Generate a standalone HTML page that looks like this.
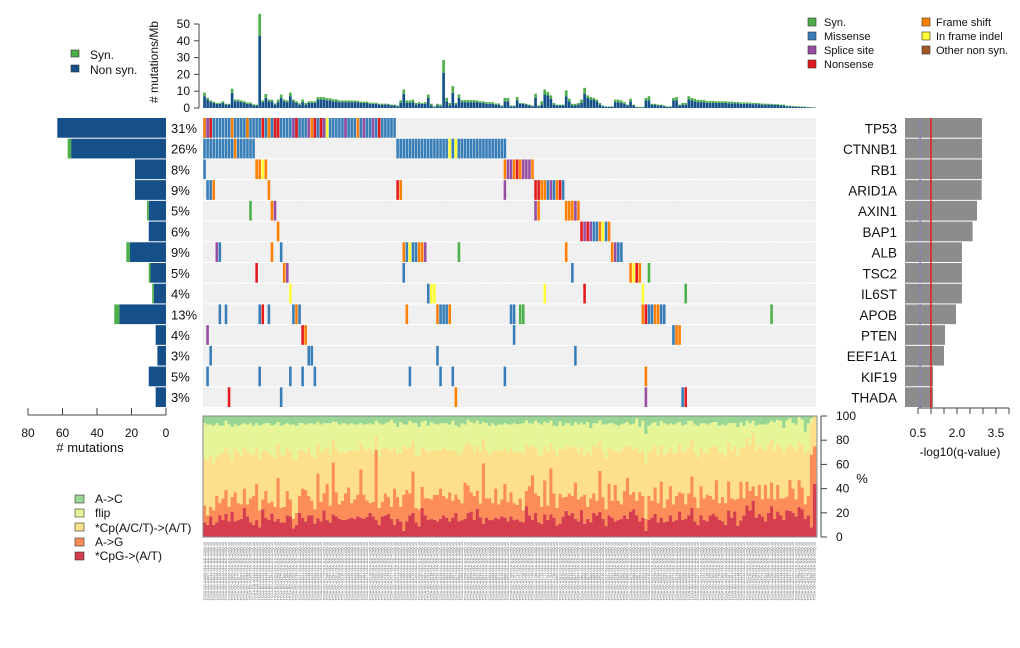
<!DOCTYPE html>
<html><head><meta charset="utf-8"><style>
html,body{margin:0;padding:0;background:#fff;}
svg{display:block;font-family:"Liberation Sans",sans-serif;}
</style></head><body>
<svg id="chart" width="1020" height="648" viewBox="0 0 1020 648" xmlns="http://www.w3.org/2000/svg">
<g id="legends">
  <rect x="71" y="50" width="8" height="7" fill="#4daf4a" stroke="#333" stroke-width="0.6"/>
  <text x="90" y="59" font-size="12" fill="#111">Syn.</text>
  <rect x="71" y="65" width="8" height="7" fill="#15508b" stroke="#333" stroke-width="0.6"/>
  <text x="90" y="74" font-size="12" fill="#111">Non syn.</text>
  <g font-size="11" fill="#111">
    <rect x="808" y="18" width="8" height="8" fill="#4daf4a" stroke="#333" stroke-width="0.6"/><text x="824" y="26">Syn.</text>
    <rect x="808" y="32" width="8" height="8" fill="#377eb8" stroke="#333" stroke-width="0.6"/><text x="824" y="40">Missense</text>
    <rect x="808" y="46" width="8" height="8" fill="#984ea3" stroke="#333" stroke-width="0.6"/><text x="824" y="54">Splice site</text>
    <rect x="808" y="60" width="8" height="8" fill="#e41a1c" stroke="#333" stroke-width="0.6"/><text x="824" y="68">Nonsense</text>
    <rect x="922" y="18" width="8" height="8" fill="#ff7f00" stroke="#333" stroke-width="0.6"/><text x="936" y="26">Frame shift</text>
    <rect x="922" y="32" width="8" height="8" fill="#ffff33" stroke="#333" stroke-width="0.6"/><text x="936" y="40">In frame indel</text>
    <rect x="922" y="46" width="8" height="8" fill="#a65628" stroke="#333" stroke-width="0.6"/><text x="936" y="54">Other non syn.</text>
  </g>
  <g font-size="12" fill="#111">
    <rect x="75" y="495" width="9" height="8" fill="#99d594" stroke="#333" stroke-width="0.6"/><text x="95" y="503">A-&gt;C</text>
    <rect x="75" y="509" width="9" height="8" fill="#e6f598" stroke="#333" stroke-width="0.6"/><text x="95" y="517">flip</text>
    <rect x="75" y="523" width="9" height="8" fill="#fee08b" stroke="#333" stroke-width="0.6"/><text x="95" y="532">*Cp(A/C/T)-&gt;(A/T)</text>
    <rect x="75" y="538" width="9" height="8" fill="#fc8d59" stroke="#333" stroke-width="0.6"/><text x="95" y="546">A-&gt;G</text>
    <rect x="75" y="552" width="9" height="8" fill="#d53e4f" stroke="#333" stroke-width="0.6"/><text x="95" y="560">*CpG-&gt;(A/T)</text>
  </g>
</g>
<g id="topG"></g><g id="matrixG"></g><g id="leftG"></g><g id="rightG"></g><g id="bottomG"></g><g id="labelsG"></g>
</svg>
<script>
const N = 200;
const genes = ["TP53","CTNNB1","RB1","ARID1A","AXIN1","BAP1","ALB","TSC2","IL6ST","APOB","PTEN","EEF1A1","KIF19","THADA"];
const pctLabels = ["31%","26%","8%","9%","5%","6%","9%","5%","4%","13%","4%","3%","5%","3%"];
const leftNonSyn = [63,55,18,18,10,10,21,9,7,27,6,5,10,6];
const leftSyn = [0,2,0,0,1,0,2,1,1,3,0,0,0,0];
const qvals = [2.96,2.96,2.96,2.95,2.77,2.6,2.19,2.19,2.19,1.96,1.54,1.5,1.08,1.08];
const qThreshold = 1.0;
const qThreshold2 = 0.58;
const topNonSyn = [7,5,3.5,3,2.5,2.5,3,2,2,9, 4,4,3.5,3,2.5,2.5,1.5,1.5,43,3.5,
6,4,4,2,3.5,6,4,3.5,7,4, 3,2,3.5,2,3,3,3,5,5,5,
4.5,4.5,4,4,3.5,3.5,3.5,3.5,3.5,3.5, 3.5,3,3,3,2.5,2.5,2.5,2,2,2,
2,1.5,1.5,1,3,8.5,3,3,3.5,2, 2.5,2.5,2.5,6,1.5,0.5,1.5,1,21,4,
1.5,9,2,6,3.5,3.5,3.5,3.5,3.5,3.5, 3,3,2.5,2.5,2.5,2,2,1,4,4,
1,1,4.5,2.5,2.5,2,1.5,1,6,1, 2,8,7.5,5.5,2,1.5,1.5,1.5,7,4,
1.5,1.5,2,3,8.5,6,5,5,4,2, 1,0.7,0.7,0.7,3.5,3.5,3,2.5,1.5,4,
1.5,0.5,0.4,0.4,4.5,4.5,2,2,1.5,1.5, 1,0.7,0.7,4.5,4.5,1.5,2,2,5,4.5,
4,3.5,3.5,3.5,3,3,3,3,3,3, 3,2.8,2.8,2.8,2.8,2.5,2.5,2.5,2.5,2.3,
2.3,2.3,2,2,2,2,1.8,1.8,1.5,1.5, 1,1,0.8,0.8,0.7,0.6,0.5,0.4,0.3,0.2];
const topSyn = [2.2,1,1,0.8,0.6,0.6,1,0.5,0.5,2.5, 1,1,1,1,0.8,0.8,0.7,0.5,13,1,
2.3,1,1,0.7,1.5,2,1,1,2.2,1, 1,0.8,1.5,1,1,1,1,1.5,1.5,1.5,
1.3,1.3,1.2,1.2,1,1,1,1,1,1, 0.8,0.8,0.8,0.8,0.7,0.7,0.7,0.6,0.6,0.6,
0.5,0.5,0.5,0.5,1.5,2.5,1.5,1.5,1.5,1, 1,0.5,1,2,1,0.5,1,1,7.5,2,
1.5,4,1,2,1.2,1.2,1.2,1.2,1.2,1, 1,1,1,1,1,0.7,0.7,0.5,2,2,
0.5,0.5,2,0.5,0.5,0.5,0.5,0.5,2.5,0.5, 2,3,2,2,1,0.5,0.5,0.5,3.5,1.5,
1,1,1,2,3.5,1.5,1.5,1,1,1, 0.5,0.3,0.3,0.3,1.5,1.5,1.5,1,0.5,1.5,
0.5,0.3,0.3,0.3,1.5,2.5,0.5,0.5,0.5,0.5, 0.5,0.3,0.3,1.5,2,0.5,1,1,2,1.5,
1.5,1.3,1.3,1.2,1.2,1.2,1.2,1,1,1, 1,1,1,0.8,0.8,0.8,0.8,0.8,0.7,0.7,
0.7,0.6,0.6,0.6,0.5,0.5,0.5,0.5,0.5,0.5, 0.4,0.4,0.4,0.3,0.3,0.3,0.3,0.2,0.2,0.2];
// [geneIndex, startSample, endSample, type]
const mutations = [
[0,0,62,"M"],[0,0,0,"F"],[0,1,1,"S"],[0,2,2,"N"],[0,9,9,"F"],[0,14,14,"F"],[0,19,19,"N"],[0,21,21,"F"],[0,23,24,"N"],[0,29,29,"S"],[0,30,30,"N"],[0,34,34,"S"],[0,35,35,"F"],[0,36,36,"N"],[0,38,38,"N"],[0,39,39,"S"],[0,40,40,"I"],[0,46,46,"S"],[0,50,50,"F"],[0,52,52,"S"],[0,55,55,"S"],[0,57,57,"N"],
[1,0,16,"M"],[1,10,10,"F"],[1,63,98,"M"],[1,80,80,"I"],[1,82,82,"I"],
[2,0,0,"M"],[2,17,18,"F"],[2,19,19,"I"],[2,20,20,"F"],[2,98,98,"F"],[2,99,100,"S"],[2,101,101,"F"],[2,102,102,"N"],[2,103,103,"F"],[2,104,106,"S"],[2,107,107,"F"],
[3,1,2,"M"],[3,3,3,"F"],[3,21,21,"F"],[3,63,63,"N"],[3,64,64,"F"],[3,98,98,"S"],[3,108,109,"N"],[3,110,111,"F"],[3,112,112,"M"],[3,113,113,"S"],[3,114,114,"M"],[3,115,115,"F"],[3,116,116,"N"],[3,117,117,"M"],
[4,15,15,"Y"],[4,22,22,"F"],[4,23,23,"S"],[4,108,108,"S"],[4,109,109,"F"],[4,118,120,"F"],[4,121,121,"S"],[4,122,122,"F"],
[5,24,24,"F"],[5,123,123,"N"],[5,124,124,"S"],[5,125,125,"N"],[5,126,126,"S"],[5,127,128,"M"],[5,129,129,"F"],[5,130,130,"I"],[5,131,131,"M"],[5,132,132,"F"],
[6,4,4,"S"],[6,5,5,"M"],[6,22,22,"F"],[6,25,25,"M"],[6,65,65,"F"],[6,66,66,"M"],[6,67,67,"I"],[6,68,69,"M"],[6,70,71,"F"],[6,72,72,"S"],[6,83,83,"Y"],[6,118,118,"F"],[6,133,133,"F"],[6,134,134,"S"],[6,135,136,"M"],
[7,17,17,"N"],[7,26,26,"F"],[7,27,27,"S"],[7,65,65,"M"],[7,120,120,"M"],[7,139,139,"F"],[7,140,140,"I"],[7,141,141,"N"],[7,142,142,"F"],[7,145,145,"Y"],
[8,28,28,"I"],[8,73,73,"M"],[8,74,75,"I"],[8,111,111,"I"],[8,124,124,"N"],[8,143,143,"I"],[8,157,157,"Y"],
[9,5,5,"M"],[9,7,7,"M"],[9,18,18,"M"],[9,19,19,"N"],[9,21,21,"M"],[9,29,29,"M"],[9,30,30,"F"],[9,31,31,"M"],[9,66,66,"F"],[9,76,76,"F"],[9,77,79,"M"],[9,80,80,"F"],[9,100,101,"M"],[9,103,104,"Y"],[9,143,143,"F"],[9,144,144,"N"],[9,145,146,"M"],[9,147,148,"F"],[9,149,150,"M"],[9,185,185,"Y"],
[10,1,1,"S"],[10,32,32,"N"],[10,33,33,"F"],[10,101,101,"M"],[10,153,153,"M"],[10,154,155,"F"],
[11,2,2,"M"],[11,34,35,"M"],[11,76,76,"M"],[11,121,121,"M"],
[12,1,1,"M"],[12,18,18,"M"],[12,28,28,"M"],[12,32,32,"M"],[12,36,36,"M"],[12,67,67,"M"],[12,77,77,"M"],[12,81,81,"M"],[12,98,98,"M"],[12,144,144,"F"],
[13,8,8,"N"],[13,25,25,"M"],[13,82,82,"F"],[13,144,144,"S"],[13,156,156,"M"],[13,157,157,"N"]
];
const specCpG = [12,10,17,10,12,18,14,19,13,21,13,14,15,24,17,12,10,14,8,23,
16,14,20,13,15,12,12,18,17,7,10,20,16,13,18,18,11,16,13,22,
14,12,20,17,15,14,14,15,16,15,17,16,15,17,20,17,14,10,17,18,
19,15,10,15,13,5,13,18,21,12,9,25,18,14,15,14,13,15,18,16,
13,16,21,13,14,15,19,21,14,25,17,11,16,14,14,16,15,17,16,13,
17,14,15,12,12,28,18,14,20,12,11,20,14,20,16,9,10,17,22,18,
20,15,13,24,11,15,12,20,18,22,15,9,18,16,13,14,15,18,15,21,
25,18,13,16,5,14,16,19,12,16,12,13,18,13,14,21,14,15,18,24,
13,10,18,14,13,18,19,17,14,13,10,22,16,22,9,13,18,26,22,30,
16,19,17,13,20,26,15,21,18,14,24,22,20,17,25,23,15,18,8,44];
const specAG = [14,8,8,12,22,10,18,20,12,12,24,14,12,16,10,20,24,30,14,8,
22,14,10,12,34,12,13,20,14,8,10,14,24,26,16,12,12,38,16,14,
30,14,46,20,12,16,22,26,12,16,18,40,20,14,8,12,58,14,12,18,
14,10,30,18,12,30,26,18,36,12,14,18,14,18,16,20,22,25,16,16,
24,14,16,18,14,30,22,16,20,16,12,50,16,18,14,24,12,14,28,16,
20,14,12,18,10,14,24,36,16,22,14,30,12,40,20,14,22,16,12,18,
14,30,18,12,24,10,20,16,12,36,18,14,26,14,30,16,12,20,34,14,
16,12,24,18,10,20,14,22,16,30,12,18,24,14,20,16,22,12,18,26,
20,14,24,18,22,16,12,30,14,20,18,24,16,10,22,30,14,20,16,12,
18,24,14,30,12,20,16,22,14,18,12,26,20,14,22,18,12,16,60,31];
const specCpA = [40,45,42,38,32,40,38,35,44,30,36,42,40,34,44,36,34,30,42,40,
34,42,38,40,28,44,42,36,40,48,44,38,32,30,40,38,42,26,40,36,
30,42,20,36,42,40,34,30,44,40,36,22,38,42,46,40,12,42,44,38,
40,46,34,36,44,40,34,38,26,42,44,34,40,38,40,36,36,32,40,40,
34,42,38,36,42,30,34,38,36,40,44,20,40,36,42,32,44,40,30,40,
36,42,44,36,46,42,32,24,38,34,42,30,44,22,36,40,34,40,42,38,
40,30,38,44,32,46,36,40,44,26,38,42,30,42,28,40,44,36,26,40,
38,44,32,38,46,36,42,34,40,30,44,38,32,42,36,40,34,44,38,30,
36,42,32,38,34,40,44,28,42,36,38,32,40,46,34,26,42,36,38,44,
38,32,42,28,44,36,40,34,42,38,44,30,34,40,32,36,42,38,26,25];
const specFlip = [28,30,26,32,28,24,22,22,24,28,20,22,26,20,22,26,24,20,28,22,
22,24,26,28,18,24,26,20,22,30,28,22,22,24,20,26,28,18,24,22,
20,26,16,22,24,24,24,22,22,22,22,16,20,22,20,24,12,28,20,20,
22,26,20,22,26,18,20,22,16,28,24,22,24,22,24,22,22,22,20,22,
22,24,22,24,24,18,18,20,24,22,24,14,22,24,24,20,22,22,20,24,
20,24,24,22,26,22,20,18,22,26,26,22,24,20,20,24,20,20,20,20,
18,20,24,22,26,24,22,18,20,18,22,28,20,22,22,22,22,20,20,18,
24,24,22,24,24,22,22,20,24,20,26,24,20,24,24,18,22,22,22,16,
24,26,20,24,24,20,20,20,22,24,26,16,22,20,24,20,18,14,18,10,
20,18,20,22,18,16,24,20,22,20,24,22,20,22,20,20,18,22,4,0];
const specAC = [6,7,7,8,6,8,8,4,7,9,7,8,7,6,7,6,8,6,8,7,
6,6,8,7,5,8,7,6,7,7,8,6,6,7,6,6,7,5,7,6,
6,6,5,5,7,6,6,7,6,7,7,6,7,7,6,7,4,6,7,6,
5,3,6,9,5,7,7,4,6,6,9,5,4,8,5,6,7,6,6,6,
7,4,8,9,6,7,3,5,6,4,7,5,6,8,6,8,7,7,6,7,
7,6,7,6,6,4,6,6,4,6,7,5,6,4,8,8,4,8,6,6,
8,5,7,6,7,5,10,6,6,4,7,7,6,6,7,8,7,6,5,7,
7,2,9,4,15,8,6,5,8,4,6,7,6,7,6,5,8,7,4,4,
7,8,6,6,7,6,5,5,8,7,8,6,6,6,9,5,8,4,6,4,
8,7,7,7,6,4,5,3,4,10,4,2,6,7,1,3,13,6,2,0];
const sampleIds = [];
for (let i = 0; i < N; i++) sampleIds.push("TCGA-DD-A" + (1000 + i * 7) + "-01A-11D-A25Q-10");

const SVGNS = "http://www.w3.org/2000/svg";
function mk(parent, tag, attrs, text) {
  const el = document.createElementNS(SVGNS, tag);
  for (const k in attrs) el.setAttribute(k, attrs[k]);
  if (text !== undefined) el.textContent = text;
  parent.appendChild(el);
  return el;
}
const X0 = 203, X1 = 816, CW = (X1 - X0) / N;
const sx = i => X0 + i * CW;
const RT = 118, RH = (408 - 118) / genes.length;
const ry = g => RT + g * RH;
const typeColor = {M:"#377eb8",F:"#ff7f00",N:"#e41a1c",S:"#984ea3",I:"#ffff33",Y:"#4daf4a",O:"#a65628"};

// ---- top bar chart
const topGroup = document.getElementById("topG");
const ty = v => 108 - v * 1.68;
const tAxis = mk(topGroup, "line", {x1:199,y1:ty(0),x2:199,y2:ty(50),stroke:"#444","stroke-width":1});


[0,10,20,30,40,50].forEach(t => {
  const tk = mk(topGroup, "line", {x1:194,y1:ty(t),x2:199,y2:ty(t),stroke:"#444"});
  
  
  const lb = mk(topGroup, "text", {x:190,y:ty(t)+4,"font-size":12,"text-anchor":"end",fill:"#111"}, String(t));
  
  
});
const ytitle = mk(topGroup, "text", {x:0,y:0,"font-size":12,"text-anchor":"middle",fill:"#111",transform:"translate(158,62) rotate(-90)"}, "# mutations/Mb");


for (let i = 0; i < N; i++) {
  const b1 = mk(topGroup, "rect", {x:sx(i)+0.2,y:ty(topNonSyn[i]),width:CW-0.4,height:topNonSyn[i]*1.68,fill:"#15508b"});
  
  
  const b2 = mk(topGroup, "rect", {x:sx(i)+0.2,y:ty(topNonSyn[i]+topSyn[i]),width:CW-0.4,height:topSyn[i]*1.68,fill:"#4daf4a"});
  
  
}

// ---- matrix
const mxGroup = document.getElementById("matrixG");
for (let g = 0; g < genes.length; g++) {
  const bg = mk(mxGroup, "rect", {x:X0,y:ry(g),width:X1-X0,height:RH-1,fill:"#efefef"});
  
  
}
for (let i = 1; i < N; i++) {
  const ln = mk(mxGroup, "line", {x1:sx(i),y1:RT,x2:sx(i),y2:408,stroke:"#fff","stroke-width":0.3,"stroke-opacity":0.6});
  
  
}
mutations.forEach(m => {
  for (let s = m[1]; s <= m[2]; s++) {
    const c = mk(mxGroup, "rect", {x:sx(s)+0.25,y:ry(m[0]),width:CW-0.5,height:RH-1,fill:typeColor[m[3]]});
    
    
  }
});

// ---- left bar chart
const leftGroup = document.getElementById("leftG");
const lx = v => 166 - v * 1.725;
for (let g = 0; g < genes.length; g++) {
  const b = mk(leftGroup, "rect", {x:lx(leftNonSyn[g]),y:ry(g),width:leftNonSyn[g]*1.725,height:RH-1,fill:"#15508b"});
  
  
  const b2 = mk(leftGroup, "rect", {x:lx(leftNonSyn[g]+leftSyn[g]),y:ry(g),width:leftSyn[g]*1.725,height:RH-1,fill:"#4daf4a"});
  
  
  const p = mk(leftGroup, "text", {x:171,y:ry(g)+RH/2+4.5,"font-size":13,fill:"#111"}, pctLabels[g]);
  
  
}
const lAxis = mk(leftGroup, "line", {x1:lx(80),y1:415,x2:lx(0),y2:415,stroke:"#444"});


[80,60,40,20,0].forEach(t => {
  const tk = mk(leftGroup, "line", {x1:lx(t),y1:408,x2:lx(t),y2:415,stroke:"#444"});
  
  
  const lb = mk(leftGroup, "text", {x:lx(t),y:437,"font-size":12,"text-anchor":"middle",fill:"#111"}, String(t));
  
  
});
const lt = mk(leftGroup, "text", {x:90,y:452,"font-size":13,"text-anchor":"middle",fill:"#111"}, "# mutations");



// ---- right q-value chart
const rightGroup = document.getElementById("rightG");
const qx = v => 905 + v * 26;
for (let g = 0; g < genes.length; g++) {
  const b = mk(rightGroup, "rect", {x:qx(0),y:ry(g),width:qvals[g]*26,height:RH-1,fill:"#8c8c8c"});
  
  
  const t = mk(rightGroup, "text", {x:897,y:ry(g)+RH/2+5,"font-size":13.5,"text-anchor":"end",fill:"#111"}, genes[g]);
  
  
}
const dl = mk(rightGroup, "line", {x1:qx(qThreshold2),y1:RT,x2:qx(qThreshold2),y2:408,stroke:"#9e6bd0","stroke-width":1.3,"stroke-dasharray":"3,3"});


const rl = mk(rightGroup, "line", {x1:qx(qThreshold),y1:RT,x2:qx(qThreshold),y2:408,stroke:"#ff0000","stroke-width":1.2});


const qa = mk(rightGroup, "line", {x1:qx(0.5),y1:408,x2:qx(4.0),y2:408,stroke:"#444"});


[0.5,1.0,1.5,2.0,2.5,3.0,3.5,4.0].forEach(t => {
  const tk = mk(rightGroup, "line", {x1:qx(t),y1:408,x2:qx(t),y2:414,stroke:"#444"});
  
  
});
[0.5,2.0,3.5].forEach(t => {
  const lb = mk(rightGroup, "text", {x:qx(t),y:437,"font-size":12,"text-anchor":"middle",fill:"#111"}, t.toFixed(1));
  
  
});
const qt = mk(rightGroup, "text", {x:960,y:456,"font-size":12,"text-anchor":"middle",fill:"#111"}, "-log10(q-value)");



// ---- bottom spectrum
const botGroup = document.getElementById("bottomG");
const BT = 416, BB = 537, BH = BB - BT;
const series = [specCpG, specAG, specCpA, specFlip, specAC];
const sCols = ["#d53e4f","#fc8d59","#fee08b","#e6f598","#99d594"];
const sNames = ["spectrum-cpg","spectrum-ag","spectrum-cpa","spectrum-flip","spectrum-ac"];
for (let i = 0; i < N; i++) {
  let tot = 0; series.forEach(s => tot += s[i]);
  let acc = 0;
  series.forEach((s, k) => {
    const h = s[i] / tot * BH;
    const r = mk(botGroup, "rect", {x:sx(i),y:BB-acc-h,width:CW+0.3,height:h,fill:sCols[k]});
    
    
    acc += h;
  });
}
const fr = mk(botGroup, "rect", {x:X0,y:BT,width:X1-X0+1,height:BH,fill:"none",stroke:"#888","stroke-width":1});


const sa = mk(botGroup, "line", {x1:821,y1:BT,x2:821,y2:BB,stroke:"#444"});


[0,20,40,60,80,100].forEach(t => {
  const y = BB - t / 100 * BH;
  const tk = mk(botGroup, "line", {x1:821,y1:y,x2:827,y2:y,stroke:"#444"});
  
  
  const lb = mk(botGroup, "text", {x:836,y:y+4,"font-size":12,fill:"#111"}, String(t));
  
  
});
const pt = mk(botGroup, "text", {x:862,y:483,"font-size":13,"text-anchor":"middle",fill:"#111"}, "%");



// ---- sample labels
const labGroup = document.getElementById("labelsG");
for (let i = 0; i < N; i++) {
  const x = sx(i) + CW * 0.9;
  const t = mk(labGroup, "text", {x:0,y:0,"font-size":3.6,fill:"#666","text-anchor":"end",transform:"translate(" + x.toFixed(2) + ",542) rotate(-90)"}, sampleIds[i]);
  
  
}
</script>
</body></html>
